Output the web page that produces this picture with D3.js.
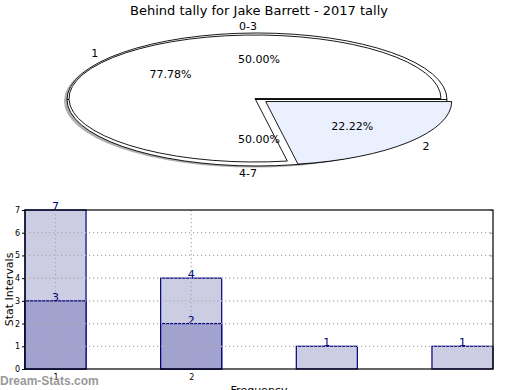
<!DOCTYPE html>
<html>
<head>
<meta charset="utf-8">
<script src="https://cdn.jsdelivr.net/npm/d3@7/dist/d3.min.js"></script>
<style>
  body { margin: 0; background: #fff; }
  svg { font-family: "DejaVu Sans", sans-serif; }
</style>
</head>
<body>
<svg id="chart" width="520" height="390"></svg>
<script>
"use strict";

// --- data ---
const title        = 'Behind tally for Jake Barrett - 2017 tally';
const outerLabels  = [ '0-3', '4-7' ];
const outerValues  = [ 1, 1 ];
const innerLabels  = [ '1', '2' ];
const innerValues  = [ 7, 2 ];
const innerExplode = [ 0, 0.075 ];
const innerColors  = [ '#ffffff', '#eaf0fd' ];

const binX       = [ 1, 2, 3, 4 ];
const totalVals  = [ 7, 4, 1, 1 ];
const lowVals    = [ 3, 2, null, null ];
const xTicks     = [ 1, 2 ];
const yTicks     = [ 0, 1, 2, 3, 4, 5, 6, 7 ];

const svg = d3.select( '#chart' );

// title
svg.append( 'text' )
   .attr( 'x', 259 ).attr( 'y', 15 )
   .attr( 'text-anchor', 'middle' )
   .style( 'font-size', '13px' )
   .text( title );

// --- pies ---
// matplotlib style: start at 3 o'clock, counter clockwise
const pie = d3.pie().sort( null ).startAngle( Math.PI / 2 ).endAngle( Math.PI / 2 - 2 * Math.PI );

function drawPie( g, values, cfg ){
  const arcs = pie( values );
  const sy = cfg.ry / cfg.rx;
  const arc = d3.arc().innerRadius( 0 ).outerRadius( cfg.rx );
  const layer = g.append( 'g' ).attr( 'transform', `translate(${cfg.cx},${cfg.cy})` );
  arcs.forEach( (a,i) => {
    const mid = ( a.startAngle + a.endAngle ) / 2,
          ex  = ( cfg.explode ? cfg.explode[i] : 0 ) * cfg.rx,
          dx  = Math.sin( mid ) * ex,
          dy  = -Math.cos( mid ) * ex * sy;
    if( cfg.shadow ){
      layer.append( 'path' )
           .attr( 'd', arc( a ) )
           .attr( 'transform', `translate(${dx - 3},${dy + 1.5}) scale(1,${sy})` )
           .attr( 'fill', '#4d4d4d' )
           .attr( 'fill-opacity', 0.45 );
    }
    layer.append( 'path' )
         .attr( 'd', arc( a ) )
         .attr( 'transform', `translate(${dx},${dy}) scale(1,${sy})` )
         .attr( 'fill', cfg.colors[i] )
         .attr( 'stroke', '#000' )
         .attr( 'stroke-width', 0.9 )
         .attr( 'vector-effect', 'non-scaling-stroke' );
  });
  return arcs.map( (a,i) => {
    const mid = ( a.startAngle + a.endAngle ) / 2,
          ex  = ( cfg.explode ? cfg.explode[i] : 0 );
    return { mid, ex };
  });
}

function pieText( g, cfg, info, labels, values ){
  const total = d3.sum( values );
  info.forEach( (d,i) => {
    const s = Math.sin( d.mid ), c = -Math.cos( d.mid );
    // outside label
    const r1 = 1.1 + d.ex;
    g.append( 'text' )
     .attr( 'x', cfg.cx + s * r1 * cfg.rx )
     .attr( 'y', cfg.cy + c * r1 * cfg.ry )
     .attr( 'dy', '0.35em' )
     .attr( 'text-anchor', s > 1e-9 ? 'start' : 'end' )
     .style( 'font-size', '11px' )
     .text( labels[i] );
    // percentage
    const r2 = 0.6 + d.ex;
    g.append( 'text' )
     .attr( 'x', cfg.pcx + s * r2 * cfg.rx )
     .attr( 'y', cfg.pcy + c * r2 * cfg.ry )
     .attr( 'dy', '0.35em' )
     .attr( 'text-anchor', 'middle' )
     .style( 'font-size', '11px' )
     .text( ( values[i] / total * 100 ).toFixed( 2 ) + '%' );
  });
}

const pieG = svg.append( 'g' );
const outerCfg = { cx: 257, cy: 99.5, pcx: 259, pcy: 99.5, rx: 190, ry: 66.5, colors: [ '#fff', '#fff' ], shadow: true };
const innerCfg = { cx: 255, cy: 98.5, pcx: 256, pcy: 98.5, rx: 186, ry: 63.5, colors: innerColors, explode: innerExplode };
const outerInfo = drawPie( pieG, outerValues, outerCfg );
const innerInfo = drawPie( pieG, innerValues, innerCfg );
pieText( pieG, outerCfg, outerInfo, outerLabels, outerValues );
pieText( pieG, innerCfg, innerInfo, innerLabels, innerValues );

// --- bars ---
const m = { left: 25, right: 493, top: 210, bottom: 369 };
const barW = 0.45;
const x = d3.scaleLinear().domain( [ 1 - barW / 2, 4 + barW / 2 ] ).range( [ m.left, m.right ] );
const y = d3.scaleLinear().domain( [ 0, 7 ] ).range( [ m.bottom, m.top ] );

const bars = svg.append( 'g' );
function drawBars( vals, fill ){
  const rows = binX.map( (b,i) => ({ b, v: vals[i] }) ).filter( d => d.v != null );
  bars.selectAll( null ).data( rows ).enter().append( 'rect' )
      .attr( 'x', d => x( d.b - barW / 2 ) )
      .attr( 'width', d => x( d.b + barW / 2 ) - x( d.b - barW / 2 ) )
      .attr( 'y', d => y( d.v ) )
      .attr( 'height', d => y( 0 ) - y( d.v ) )
      .attr( 'fill', fill )
      .attr( 'stroke', '#000080' )
      .attr( 'stroke-width', 1.2 );
  bars.selectAll( null ).data( rows ).enter().append( 'text' )
      .attr( 'x', d => x( d.b ) )
      .attr( 'y', d => y( d.v ) )
      .attr( 'text-anchor', 'middle' )
      .attr( 'fill', '#000080' )
      .style( 'font-size', '11px' )
      .text( d => d.v );
}
drawBars( totalVals, '#ccccE3' );
drawBars( lowVals, '#a2a2ce' );

// grid on top of bars
const grid = svg.append( 'g' )
                .attr( 'stroke', '#aaaaaa' )
                .attr( 'stroke-dasharray', '1.2,2.8' )
                .attr( 'stroke-width', 1.2 );
grid.selectAll( null ).data( yTicks.slice( 1, -1 ) ).enter().append( 'line' )
    .attr( 'x1', m.left ).attr( 'x2', m.right )
    .attr( 'y1', d => y( d ) ).attr( 'y2', d => y( d ) );
grid.selectAll( null ).data( xTicks ).enter().append( 'line' )
    .attr( 'x1', d => x( d ) ).attr( 'x2', d => x( d ) )
    .attr( 'y1', m.top ).attr( 'y2', m.bottom );

// axes
const yAxis = d3.axisLeft( y ).tickValues( yTicks ).tickFormat( d3.format( 'd' ) ).tickSize( 3 ).tickPadding( 2 );
svg.append( 'g' )
   .attr( 'transform', `translate(${m.left},0)` )
   .call( yAxis )
   .call( g => g.select( '.domain' ).remove() )
   .call( g => g.selectAll( 'text' ).style( 'font-size', '8px' ).attr( 'font-family', 'DejaVu Sans' ) );
const yAxisR = d3.axisLeft( y ).tickValues( yTicks ).tickSize( 3 ).tickFormat( '' );
svg.append( 'g' )
   .attr( 'transform', `translate(${m.right},0)` )
   .call( yAxisR )
   .call( g => g.select( '.domain' ).remove() )
   .call( g => g.selectAll( 'line' ).attr( 'stroke', '#999' ) );
const xAxis = d3.axisBottom( x ).tickValues( xTicks ).tickFormat( d3.format( 'd' ) ).tickSize( 0 ).tickPadding( 5 );
svg.append( 'g' )
   .attr( 'transform', `translate(0,${m.bottom})` )
   .call( xAxis )
   .call( g => g.select( '.domain' ).remove() )
   .call( g => g.selectAll( 'text' ).style( 'font-size', '8px' ).attr( 'font-family', 'DejaVu Sans' ) );

// frame
svg.append( 'rect' )
   .attr( 'x', m.left ).attr( 'y', m.top )
   .attr( 'width', m.right - m.left ).attr( 'height', m.bottom - m.top )
   .attr( 'fill', 'none' )
   .attr( 'stroke', '#000' )
   .attr( 'stroke-width', 1.2 );

// axis titles
svg.append( 'text' )
   .attr( 'transform', `translate(13,${( m.top + m.bottom ) / 2}) rotate(-90)` )
   .attr( 'text-anchor', 'middle' )
   .style( 'font-size', '11px' )
   .text( 'Stat Intervals' );
svg.append( 'text' )
   .attr( 'x', 259 ).attr( 'y', 394 )
   .attr( 'text-anchor', 'middle' )
   .style( 'font-size', '11px' )
   .text( 'Frequency' );

// watermark
svg.append( 'text' )
   .attr( 'x', 0 ).attr( 'y', 385 )
   .attr( 'fill', '#999' )
   .style( 'font-size', '12px' )
   .style( 'font-weight', 'bold' )
   .style( 'font-family', '"Liberation Sans", sans-serif' )
   .text( 'Dream-Stats.com' );
</script>
</body>
</html>
